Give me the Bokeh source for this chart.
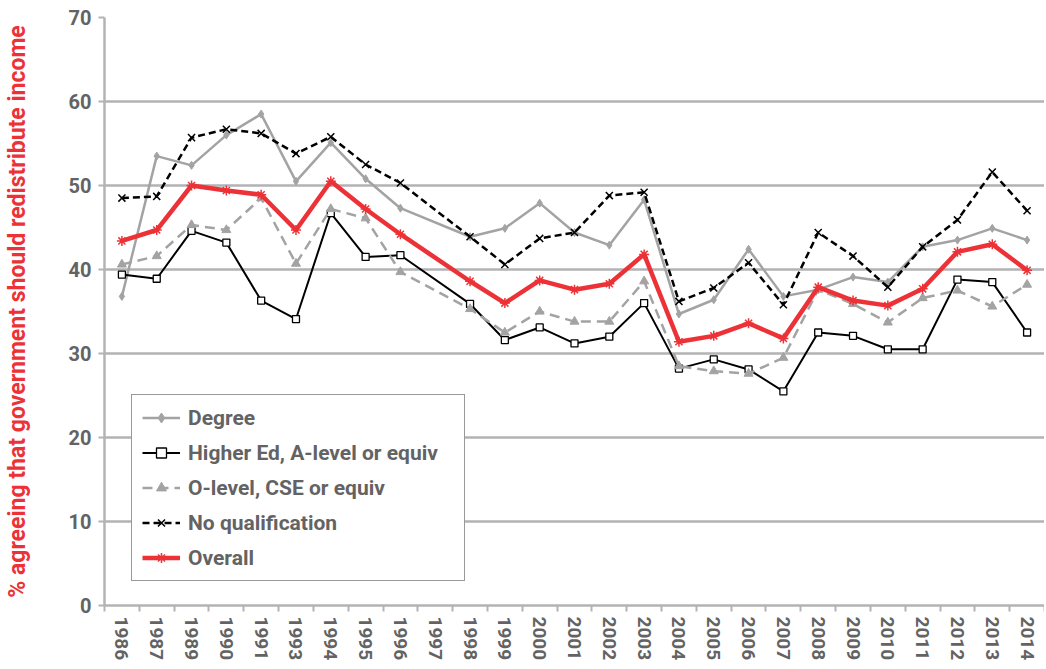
from bokeh.plotting import figure
from bokeh.models import Range1d, FixedTicker, Legend, LegendItem
from bokeh.embed import file_html
from bokeh.resources import INLINE

years = ["1986", "1987", "1989", "1990", "1991", "1993", "1994", "1995", "1996",
         "1997", "1998", "1999", "2000", "2001", "2002", "2003", "2004", "2005",
         "2006", "2007", "2008", "2009", "2010", "2011", "2012", "2013", "2014"]

degree = [36.8, 53.5, 52.4, 56.0, 58.5, 50.5, 55.1, 50.8, 47.3, None,
          43.9, 44.9, 47.9, 44.4, 42.9, 48.3, 34.7, 36.4, 42.4, 36.8,
          37.6, 39.1, 38.5, 42.7, 43.5, 44.9, 43.5]
higher_ed = [39.4, 38.9, 44.6, 43.2, 36.3, 34.1, 46.7, 41.5, 41.7, None,
             35.9, 31.6, 33.1, 31.2, 32.0, 36.0, 28.2, 29.3, 28.1, 25.5,
             32.5, 32.1, 30.5, 30.5, 38.8, 38.5, 32.5]
o_level = [40.6, 41.6, 45.3, 44.7, 48.5, 40.7, 47.2, 46.1, 39.7, None,
           35.3, 32.5, 35.0, 33.8, 33.8, 38.6, 28.5, 27.9, 27.6, 29.5,
           37.6, 35.9, 33.7, 36.6, 37.5, 35.6, 38.2]
no_qual = [48.5, 48.7, 55.7, 56.7, 56.2, 53.8, 55.8, 52.5, 50.3, None,
           43.9, 40.6, 43.7, 44.4, 48.8, 49.2, 36.2, 37.8, 40.8, 35.8,
           44.4, 41.6, 37.9, 42.7, 45.9, 51.6, 47.0]
overall = [43.4, 44.7, 50.0, 49.4, 48.9, 44.7, 50.5, 47.2, 44.2, None,
           38.6, 36.0, 38.7, 37.6, 38.3, 41.8, 31.4, 32.1, 33.6, 31.8,
           37.9, 36.3, 35.7, 37.7, 42.1, 43.0, 39.9]

GRID = "#b3b3b5"
TXT = "#636363"
RED = "#ec3237"
GREY = "#a3a3a3"
FONT = "Roboto"

n = len(years)
p = figure(width=1044, height=663, output_backend="svg", toolbar_location=None,
           x_range=Range1d(0, n), y_range=Range1d(0, 70),
           min_border_top=17, min_border_right=0, min_border_left=98,
           min_border_bottom=0)
p.outline_line_color = None
p.background_fill_color = "white"
p.border_fill_color = "white"


def pts(vals):
    xs, ys = [], []
    for i, v in enumerate(vals):
        if v is not None:
            xs.append(i + 0.5)
            ys.append(v)
    return xs, ys


items = []

xs, ys = pts(degree)
l = p.line(xs, ys, line_color=GREY, line_width=2.5)
s = p.scatter(xs, ys, marker="diamond", size=8, fill_color=GREY, line_color=GREY)
items.append(LegendItem(label="Degree", renderers=[l, s]))

xs, ys = pts(higher_ed)
l = p.line(xs, ys, line_color="black", line_width=2)
s = p.scatter(xs, ys, marker="square", size=7, fill_color="white", line_color="black", line_width=1.3)
items.append(LegendItem(label="Higher Ed, A-level or equiv", renderers=[l, s]))

xs, ys = pts(o_level)
l = p.line(xs, ys, line_color=GREY, line_width=2.5, line_dash="10 6")
s = p.scatter(xs, ys, marker="triangle", size=9, fill_color=GREY, line_color=GREY)
items.append(LegendItem(label="O-level, CSE or equiv", renderers=[l, s]))

xs, ys = pts(no_qual)
l = p.line(xs, ys, line_color="black", line_width=2.5, line_dash="7 4")
s = p.scatter(xs, ys, marker="x", size=10, line_color="black", line_width=1.5)
items.append(LegendItem(label="No qualification", renderers=[l, s]))

xs, ys = pts(overall)
l = p.line(xs, ys, line_color=RED, line_width=4.5)
s = p.scatter(xs, ys, marker="asterisk", size=10, line_color=RED, line_width=1.5)
items.append(LegendItem(label="Overall", renderers=[l, s]))

# axes
p.xaxis.ticker = FixedTicker(ticks=[i + 0.5 for i in range(n)],
                             minor_ticks=list(range(n + 1)))
p.xaxis.major_label_overrides = {i + 0.5: y for i, y in enumerate(years)}
p.xaxis.major_tick_line_color = None
p.xaxis.minor_tick_line_color = GRID
p.xaxis.minor_tick_line_width = 2
p.xaxis.minor_tick_out = 6
p.xaxis.minor_tick_in = 0
p.xaxis.axis_line_color = GRID
p.xaxis.axis_line_width = 2.5
p.xaxis.major_label_orientation = "vertical"
p.xaxis.major_label_standoff = 5
p.xaxis.major_label_text_font = FONT
p.xaxis.major_label_text_font_style = "bold"
p.xaxis.major_label_text_font_size = "19px"
p.xaxis.major_label_text_color = TXT

p.yaxis.ticker = FixedTicker(ticks=list(range(0, 71, 10)))
p.yaxis.minor_tick_line_color = None
p.yaxis.major_tick_line_color = GRID
p.yaxis.major_tick_line_width = 2
p.yaxis.major_tick_out = 6
p.yaxis.major_tick_in = 0
p.yaxis.axis_line_color = GRID
p.yaxis.axis_line_width = 2.5
p.yaxis.major_label_standoff = 7
p.yaxis.major_label_text_font = FONT
p.yaxis.major_label_text_font_style = "bold"
p.yaxis.major_label_text_font_size = "20px"
p.yaxis.major_label_text_color = TXT
p.yaxis.axis_label = "% agreeing that government should redistribute income"
p.yaxis.axis_label_text_font = FONT
p.yaxis.axis_label_text_font_style = "bold"
p.yaxis.axis_label_text_font_size = "23px"
p.yaxis.axis_label_text_color = RED
p.yaxis.axis_label_standoff = 35

p.xgrid.grid_line_color = None
p.ygrid.grid_line_color = GRID
p.ygrid.grid_line_width = 2.5

legend = Legend(items=items, location=(27, 24),
                label_text_font=FONT, label_text_font_style="bold",
                label_text_font_size="21px", label_text_color=TXT,
                glyph_width=38, glyph_height=25, label_height=25,
                label_width=266,
                spacing=10, padding=10, label_standoff=8, margin=0,
                border_line_color="#333333", border_line_width=1.2,
                background_fill_color="white", background_fill_alpha=1)
p.add_layout(legend)

open("out.html", "w").write(file_html(p, INLINE))
